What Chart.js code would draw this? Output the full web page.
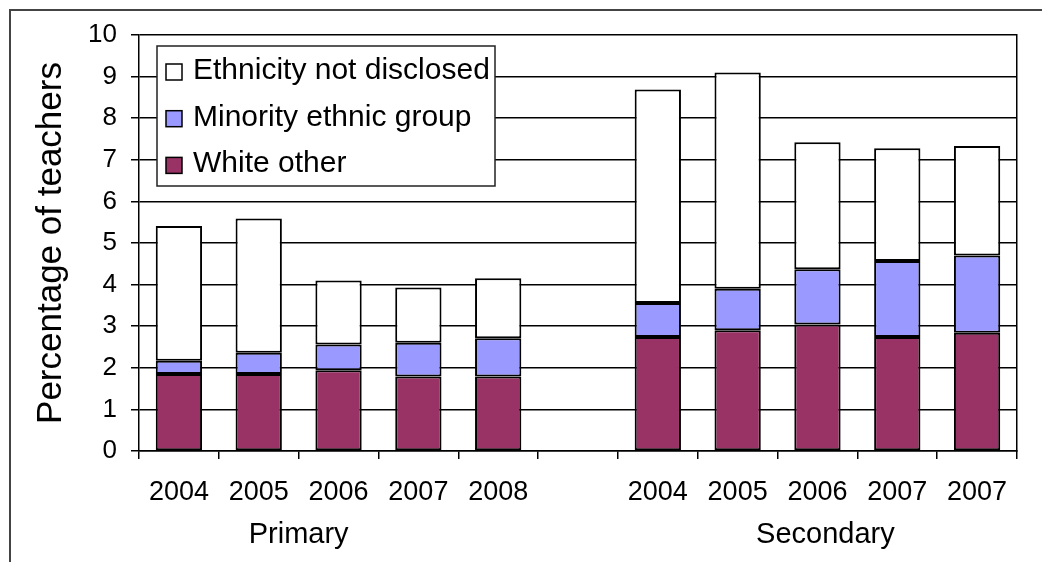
<!DOCTYPE html>
<html>
<head>
<meta charset="utf-8">
<script src="https://cdn.jsdelivr.net/npm/chart.js@4.4.1/dist/chart.umd.min.js"></script>
<style>
    html, body { margin: 0; padding: 0; background: #fff; overflow: hidden; }
    #wrap { position: relative; width: 1042px; height: 562px; }
    #frame {
        position: absolute; left: 9px; top: 9px; width: 1100px; height: 600px;
        border: 2px solid #444;
    }
    #chart { position: absolute; left: 0; top: 0; }
</style>
</head>
<body>
<div id="wrap">
    <div id="frame"></div>
    <canvas id="chart" width="1042" height="562"></canvas>
</div>
<script>
// years per phase, blank slot separates primary from secondary
const years = ['2004', '2005', '2006', '2007', '2008', '', '2004', '2005', '2006', '2007', '2007'];
const phases = ['Primary', 'Secondary'];

// percentage of teachers, stacked bottom to top
const whiteOther = [1.85, 1.85, 1.94, 1.79, 1.79, null, 2.74, 2.90, 3.04, 2.74, 2.84];
const minorityEthnic = [0.32, 0.51, 0.62, 0.81, 0.92, null, 0.82, 1.00, 1.33, 1.83, 1.86];
const notDisclosed = [3.24, 3.23, 1.54, 1.33, 1.44, null, 5.13, 5.20, 3.05, 2.71, 2.63];

const yTicks = [0, 1, 2, 3, 4, 5, 6, 7, 8, 9, 10];

const FONT = "'Liberation Sans', Arial, sans-serif";

// phase captions under the year labels
const phaseLabels = {
    id: 'phaseLabels',
    afterDraw(chart, args, opts) {
        const ctx = chart.ctx;
        const x = chart.scales.x;
        ctx.save();
        ctx.font = '29px ' + FONT;
        ctx.fillStyle = '#000';
        ctx.textAlign = 'center';
        ctx.textBaseline = 'alphabetic';
        phases.forEach((p, i) => {
            ctx.fillText(p, x.getPixelForValue(opts.at[i]), opts.baseline);
        });
        ctx.restore();
    }
};

// boxed legend inside the plot, top series first
const boxLegend = {
    id: 'boxLegend',
    afterDraw(chart) {
        const ctx = chart.ctx;
        const area = chart.chartArea;
        const left = area.left + 18, top = area.top + 11;
        const w = 338, h = 140;
        ctx.save();
        ctx.fillStyle = '#fff';
        ctx.fillRect(left, top, w, h);
        ctx.strokeStyle = '#222';
        ctx.lineWidth = 1.5;
        ctx.strokeRect(left, top, w, h);
        ctx.font = '30px ' + FONT;
        ctx.textBaseline = 'alphabetic';
        const sets = chart.data.datasets.slice().reverse();
        sets.forEach((ds, i) => {
            const cy = top + 26 + i * 46.7;
            ctx.fillStyle = ds.backgroundColor;
            ctx.fillRect(left + 9, cy - 8, 16, 16);
            ctx.strokeStyle = '#000';
            ctx.lineWidth = 1.5;
            ctx.strokeRect(left + 9, cy - 8, 16, 16);
            ctx.fillStyle = '#000';
            ctx.fillText(ds.label, left + 36, cy + 7);
        });
        ctx.restore();
    }
};

const barStyle = {
    borderColor: '#000',
    borderWidth: 2,
    borderSkipped: false,
    categoryPercentage: 1,
    barPercentage: 0.58
};

new Chart(document.getElementById('chart'), {
    type: 'bar',
    data: {
        labels: years,
        datasets: [
            { label: 'White other', data: whiteOther, backgroundColor: '#993366', ...barStyle },
            { label: 'Minority ethnic group', data: minorityEthnic, backgroundColor: '#9999ff', ...barStyle },
            { label: 'Ethnicity not disclosed', data: notDisclosed, backgroundColor: '#ffffff', ...barStyle }
        ]
    },
    options: {
        responsive: false,
        animation: false,
        devicePixelRatio: 1,
        layout: { padding: { left: 0, top: 35, right: 25, bottom: 0 } },
        plugins: {
            legend: { display: false },
            tooltip: { enabled: false },
            phaseLabels: { at: [1.5, 8.1], baseline: 543 }
        },
        scales: {
            x: {
                stacked: true,
                offset: true,
                grid: {
                    offset: true,
                    drawOnChartArea: false,
                    drawTicks: true,
                    tickLength: 8,
                    color: '#000',
                    lineWidth: 1.5
                },
                border: { display: true, color: '#000', width: 1.5 },
                ticks: {
                    color: '#000',
                    font: { family: FONT, size: 27 },
                    padding: 17,
                    maxRotation: 0,
                    autoSkip: false
                },
                afterFit(s) { s.height = 111; }
            },
            y: {
                stacked: true,
                min: 0,
                max: 10,
                afterBuildTicks(s) { s.ticks = yTicks.map(v => ({ value: v })); },
                grid: {
                    color: '#000',
                    lineWidth: 1.5,
                    drawTicks: true,
                    tickLength: 8
                },
                border: { display: true, color: '#000', width: 1.5 },
                ticks: {
                    color: '#000',
                    font: { family: FONT, size: 26 },
                    padding: 14
                },
                title: {
                    display: true,
                    text: 'Percentage of teachers',
                    color: '#000',
                    font: { family: FONT, size: 35 },
                    padding: { top: 30, bottom: 0 }
                },
                afterFit(s) { s.width = 139; }
            },
            yRight: {
                position: 'right',
                display: true,
                min: 0,
                max: 10,
                grid: { drawOnChartArea: false, drawTicks: false },
                border: { display: true, color: '#000', width: 1.5 },
                ticks: { display: false },
                afterFit(s) { s.width = 0; }
            }
        }
    },
    plugins: [phaseLabels, boxLegend]
});
</script>
</body>
</html>
